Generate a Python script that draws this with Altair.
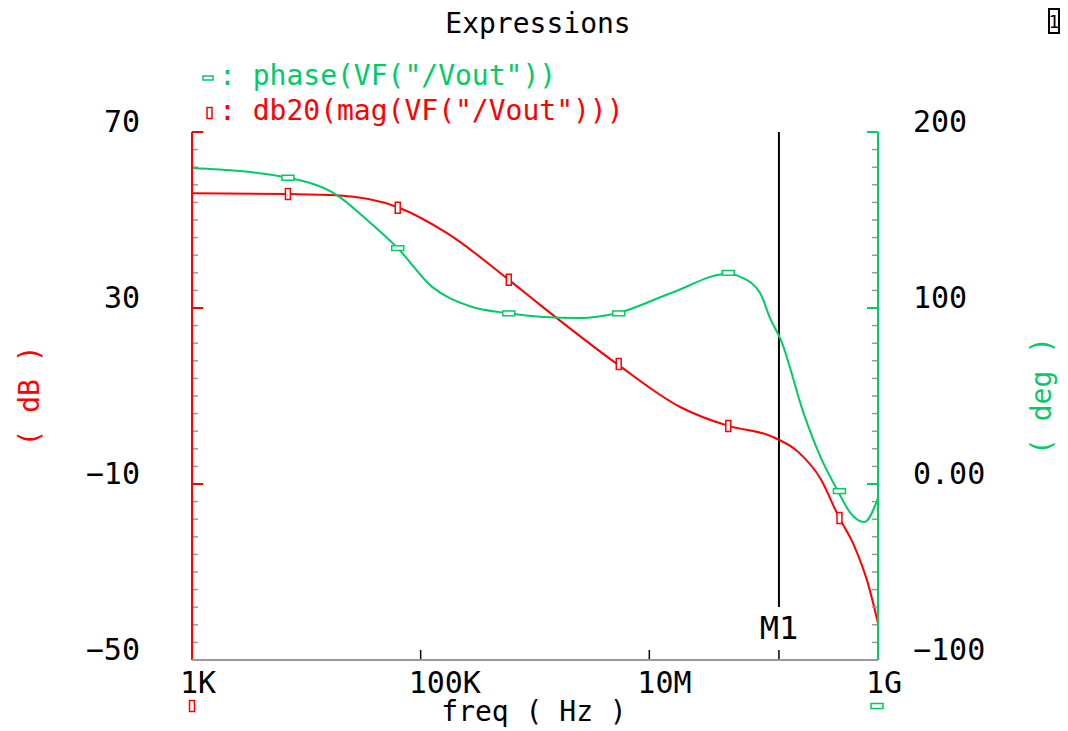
import altair as alt
import pandas as pd

# ---- data ----
mag_freq = [1e3, 6.9e3, 1.86e4, 6.3e4, 1.7e5, 5.9e5, 1.12e6, 5.2e6, 1.86e7, 4.9e7,
            1.15e8, 2.0e8, 3.16e8, 4.5e8, 6.2e8, 8.1e8, 1e9]
mag_db = [56.1, 55.9, 55.6, 52.9, 47.0, 36.4, 30.6, 17.3, 7.5, 3.2,
          0.9, -2.7, -8.9, -17.3, -24.1, -32.3, -41.6]

phase_freq = [1e3, 6.9e3, 1.86e4, 3.4e4, 6.3e4, 1.26e5, 2.7e5, 5.9e5, 1.12e6, 2.45e6,
              5.2e6, 1.55e7, 4.9e7, 6.3e7, 9.3e7, 1.15e8, 1.41e8, 2.24e8, 3.16e8,
              4.5e8, 5.75e8, 7.6e8, 1e9]
phase_deg = [179.5, 174, 164, 150, 134, 112, 101, 97, 95, 94.3,
             97, 108.5, 119.5, 117.6, 108.5, 93.5, 82, 40, 15,
             -4.5, -16.5, -21.6, -8]

marker_freq = [6.9e3, 6.3e4, 5.9e5, 5.4e6, 4.9e7, 4.6e8]
marker_db = [55.9, 52.8, 36.4, 17.3, 3.2, -17.7]
marker_deg = [174, 134, 97, 97, 120, -4]

m1_freq = [1.36e8]
m1_label = ["M1"]

x_ticks = [1e3, 1e5, 1e7, 1e9]
x_tick_labels = ["1K", "100K", "10M", "1G"]
x_inner_ticks = [1e5, 1e7, 1.36e8]
db_ticks = [-50, -10, 30, 70]
db_tick_labels = ["\u221250", "\u221210", "30", "70"]
deg_ticks = [-100, 0, 100, 200]
deg_tick_labels = ["\u2212100", "0.00", "100", "200"]

title_text = ["Expressions"]
legend_phase = [': phase(VF("/Vout"))']
legend_mag = [': db20(mag(VF("/Vout")))']
x_title = ["freq ( Hz )"]
left_title = ["( dB )"]
right_title = ["( deg )"]

RED = "#ff0000"
GREEN = "#00cc66"
GREY = "#999999"
FONT = "DejaVu Sans Mono"
W, H = 686, 528

RED_SHAPE = "M-0.45,-1H0.45V1H-0.45Z"
GREEN_SHAPE = "M-1,-0.4H1V0.4H-1Z"

df_mag = pd.DataFrame({"freq": mag_freq, "db": mag_db})
df_phase = pd.DataFrame({"freq": phase_freq, "deg": phase_deg})
df_mk_mag = pd.DataFrame({"freq": marker_freq, "db": marker_db})
df_mk_phase = pd.DataFrame({"freq": marker_freq, "deg": marker_deg})
df_m1 = pd.DataFrame({"freq": m1_freq, "t": m1_label})
df_xin = pd.DataFrame({"freq": x_inner_ticks})
df_xlab = pd.DataFrame({"freq": x_ticks, "t": x_tick_labels})
df_dbmaj = pd.DataFrame({"db": db_ticks, "t": db_tick_labels})
df_dbmin = pd.DataFrame({"db": [v for v in range(-50, 71, 4) if v not in db_ticks]})
df_degmaj = pd.DataFrame({"deg": deg_ticks, "t": deg_tick_labels})
df_degmin = pd.DataFrame({"deg": [v for v in range(-100, 201, 10) if v not in deg_ticks]})
one = pd.DataFrame({"t": [0]})

xscale = alt.Scale(type="log", domain=[1e3, 1e9], nice=False)
dbscale = alt.Scale(domain=[-50, 70], nice=False, zero=False)
degscale = alt.Scale(domain=[-100, 200], nice=False, zero=False)

X = alt.X("freq:Q", scale=xscale, axis=None)
YDB = alt.Y("db:Q", scale=dbscale, axis=None)
YDEG = alt.Y("deg:Q", scale=degscale, axis=None)


def label(data, color, size, x, y, align="left", angle=0, baseline="alphabetic"):
    df = pd.DataFrame({"t": data})
    return alt.Chart(df).mark_text(font=FONT, fontSize=size, color=color, align=align,
                                   baseline=baseline, angle=angle).encode(
        x=alt.value(x), y=alt.value(y), text="t:N")


def marker(df, shape, size, color, x, y):
    return alt.Chart(df).mark_point(shape=shape, size=size, filled=True, fill="white",
                                    stroke=color, strokeWidth=1.5, opacity=1).encode(x=x, y=y)


# ---- frame (axis lines) ----
left_dom = alt.Chart(one).mark_rule(color=RED, strokeWidth=2).encode(
    x=alt.value(0), y=alt.value(0), y2=alt.value(H))
right_dom = alt.Chart(one).mark_rule(color=GREEN, strokeWidth=2).encode(
    x=alt.value(W), y=alt.value(0), y2=alt.value(H))
bottom_dom = alt.Chart(one).mark_rule(color=GREY, strokeWidth=2).encode(
    x=alt.value(0), x2=alt.value(W), y=alt.value(H))

# ---- left (dB) group ----
red_line = alt.Chart(df_mag).mark_line(color=RED, strokeWidth=2, interpolate="monotone").encode(
    x=X, y=YDB)
red_marks = marker(df_mk_mag, RED_SHAPE, 121, RED, X, YDB)
left_major = alt.Chart(df_dbmaj).mark_rule(color=RED, strokeWidth=2).encode(
    x=alt.value(0), x2=alt.value(11), y=YDB)
left_minor = alt.Chart(df_dbmin).mark_rule(color=GREY, strokeWidth=1.5).encode(
    x=alt.value(0), x2=alt.value(6), y=YDB)
left_labels = alt.Chart(df_dbmaj).mark_text(font=FONT, fontSize=30, color="black",
                                            align="right", baseline="alphabetic").encode(
    x=alt.value(-52), y=YDB, text="t:N")
x_labels = alt.Chart(df_xlab).mark_text(font=FONT, fontSize=30, color="black", dx=-12,
                                        align="left", baseline="alphabetic").encode(
    x=X, y=alt.value(H + 33), text="t:N")
bottom_ticks = alt.Chart(df_xin).mark_rule(color="black", strokeWidth=1.5).encode(
    x=X, y=alt.value(H - 10), y2=alt.value(H))
m1_rule = alt.Chart(df_m1).mark_rule(color="black", strokeWidth=2).encode(
    x=X, y=alt.value(0), y2=alt.value(475))
m1_text = alt.Chart(df_m1).mark_text(font=FONT, fontSize=32, color="black",
                                     align="center", baseline="alphabetic").encode(
    x=X, y=alt.value(507), text="t:N")

title = label(title_text, "black", 28, 346, -99, align="center")
leg_phase_txt = label(legend_phase, GREEN, 28, 27, -47)
leg_mag_txt = label(legend_mag, RED, 28, 27, -12)
xtitle = label(x_title, "black", 28, 342, 589, align="center")
ltitle = label(left_title, RED, 28, -161, 264, align="center", angle=270, baseline="middle")
rtitle = label(right_title, GREEN, 28, 851, 264, align="center", angle=270, baseline="middle")
icon_box = alt.Chart(one).mark_rect(fill="white", stroke="black", strokeWidth=2).encode(
    x=alt.value(857), x2=alt.value(867), y=alt.value(-123), y2=alt.value(-99))
icon_txt = label(["1"], "black", 18, 862, -104, align="center")

leg_red_top = marker(one, RED_SHAPE, 121, RED, alt.value(17.5), alt.value(-19))
leg_green_top = marker(one, GREEN_SHAPE, 100, GREEN, alt.value(16), alt.value(-54))
leg_red_bot = marker(one, RED_SHAPE, 121, RED, alt.value(0), alt.value(574))
leg_green_bot = marker(one, GREEN_SHAPE, 144, GREEN, alt.value(685), alt.value(574))

left_group = alt.layer(left_minor, left_major, bottom_ticks, m1_rule, m1_text, red_line,
                       red_marks, left_labels, x_labels, title, leg_phase_txt, leg_mag_txt,
                       xtitle, ltitle, rtitle, icon_box, icon_txt, leg_red_top,
                       leg_green_top, leg_red_bot, leg_green_bot)

# ---- right (deg) group ----
green_line = alt.Chart(df_phase).mark_line(color=GREEN, strokeWidth=2,
                                           interpolate="monotone").encode(x=X, y=YDEG)
green_marks = marker(df_mk_phase, GREEN_SHAPE, 144, GREEN, X, YDEG)
right_major = alt.Chart(df_degmaj).mark_rule(color=GREEN, strokeWidth=2).encode(
    x=alt.value(W - 11), x2=alt.value(W), y=YDEG)
right_minor = alt.Chart(df_degmin).mark_rule(color=GREY, strokeWidth=1.5).encode(
    x=alt.value(W - 6), x2=alt.value(W), y=YDEG)
right_labels = alt.Chart(df_degmaj).mark_text(font=FONT, fontSize=30, color="black",
                                              align="left", baseline="alphabetic").encode(
    x=alt.value(W + 35), y=YDEG, text="t:N")

right_group = alt.layer(right_minor, right_major, green_line, green_marks, right_labels,
                        left_dom, right_dom, bottom_dom)

chart = alt.layer(left_group, right_group).resolve_scale(y="independent").properties(
    width=W, height=H,
    autosize=alt.AutoSizeParams(type="none"),
    padding={"left": 184, "top": 124, "right": 182, "bottom": 70},
    background="white",
).configure_view(stroke=None)

chart.save("out.html", embed_options={"renderer": "svg", "actions": False})
